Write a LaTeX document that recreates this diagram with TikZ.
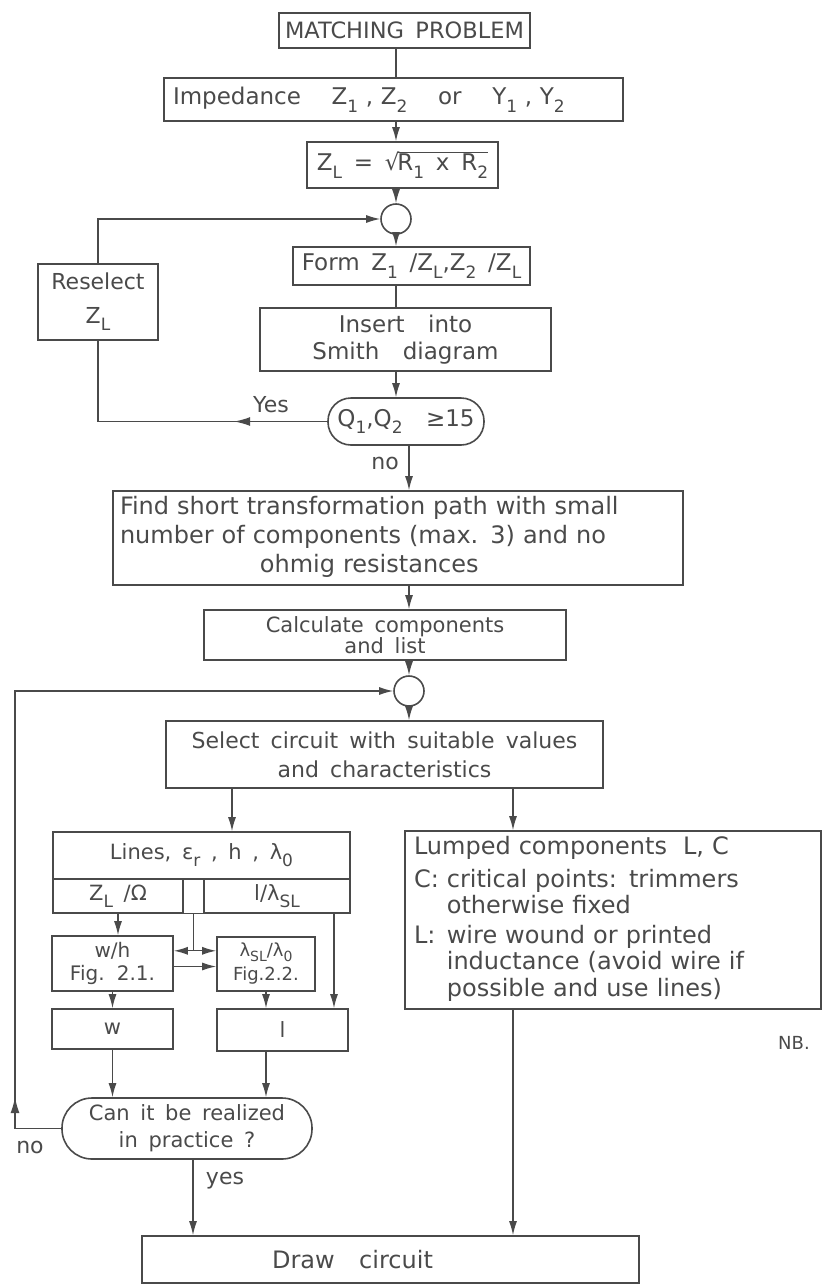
\documentclass[tikz,border=0pt]{standalone}
\usepackage{fontspec}
\setmainfont{DejaVu Sans}[WordSpace=1.6]
\usetikzlibrary{arrows.meta,positioning,calc,decorations.markings}
\setlength\parindent{0pt}
\definecolor{ink}{HTML}{4A4A4A}
\newcommand\lo[1]{\raisebox{-0.6ex}{\fontsize{17}{17}\selectfont #1}}
\newcommand\los[1]{\raisebox{-0.45ex}{\fontsize{14}{14}\selectfont #1}}
\tikzset{
  box/.style={draw=ink,line width=1.6pt,text=ink,align=center,inner sep=3pt,font=\fontsize{23}{27}\selectfont},
  pill/.style={box,rounded corners=#1},
  jn/.style={draw=ink,line width=1.6pt,circle,minimum size=30pt,inner sep=0pt},
  arr/.style={-{Latex[length=14pt,width=8pt]},line width=1.3pt,draw=ink},
  ln/.style={line width=1.3pt,draw=ink},
  midarr/.style={ln,postaction={decorate},decoration={markings,mark=at position #1 with {\arrow{Latex[length=16pt,width=9pt]}}}},
  lbl/.style={text=ink,inner sep=0pt,font=\fontsize{22}{26}\selectfont},
}

\begin{document}
\begin{tikzpicture}[x=1pt,y=-1pt]
  \useasboundingbox (0,0) rectangle (822,1285);
  \coordinate (ax1) at (396,0);
  \coordinate (ax2) at (409,0);
  \coordinate (nl) at (15,0);
  \coordinate (bl) at (232,0);
  \coordinate (br) at (513,0);
  \coordinate (lr) at (334,0);
  \coordinate (cy) at (193,0);
  % main column
  \node[box,minimum width=251pt,minimum height=35pt,font=\fontsize{22.5}{27}\selectfont] (match) at (404.5,30.5) {MATCHING PROBLEM};
  \node[box,minimum height=43pt,text width=441pt,align=left,inner xsep=9pt] (imp) at (393.5,99.5) {Impedance\quad\ Z\lo{1} , Z\lo{2}\quad\ or\quad\ Y\lo{1} , Y\lo{2}};
  \node[box,minimum width=191pt,minimum height=46pt] (zl) at (402.5,165) {Z\lo{L} = √\kern-2pt$\overline{\mbox{R\lo{1} x R\lo{2}}}$};
  \node[jn] (c1) at (396,219) {};
  \node[box,minimum width=237pt,minimum height=38pt] (form) at (411.5,266) {Form Z\lo{1} /Z\lo{L},Z\lo{2} /Z\lo{L}};
  \node[box,minimum width=120pt,minimum height=76pt,font=\fontsize{22}{26}\selectfont] (resel) at (98,302) {Reselect\\[8pt]Z\lo{L}};
  \node[box,minimum width=291pt,minimum height=63pt] (ins) at (405.5,339.5) {Insert\ \ into\\Smith\ \ diagram};
  \node[pill=23pt,minimum width=156pt,minimum height=47pt] (q) at (406,421.5) {Q\lo{1},Q\lo{2}\ \ ≥15};
  \node[box,minimum height=94pt,text width=556pt,align=left,inner xsep=7pt,font=\fontsize{24}{29}\selectfont] (find) at (398,538) {\begin{tabular}{@{}l@{}}Find short transformation path with small\\number of components (max. 3) and no\\\multicolumn{1}{@{}c@{}}{ohmig resistances}\end{tabular}};
  \node[box,minimum width=362pt,minimum height=50pt,font=\fontsize{21}{21}\selectfont] (calc) at (385,635) {Calculate components\\and list};
  \node[jn] (c2) at (409,691) {};
  \node[box,minimum width=437pt,minimum height=67pt,font=\fontsize{22}{29}\selectfont] (sel) at (384.5,754.5) {Select circuit with suitable values\\and characteristics};
  % lines branch
  \node[box,minimum width=297pt,minimum height=47pt,font=\fontsize{21}{25}\selectfont] (lines) at (201.5,855.5) {Lines, ε\lo{r} , h , λ\lo{0}};
  \node[box,minimum width=130pt,minimum height=34pt,font=\fontsize{21}{25}\selectfont] (zlo) at (118,896) {Z\lo{L} /Ω};
  \node[box,minimum width=146pt,minimum height=34pt,font=\fontsize{21}{25}\selectfont] (lam) at (277,896) {l/λ\lo{SL}};
  \node[box,minimum width=121pt,minimum height=55pt,font=\fontsize{20}{23}\selectfont] (wh) at (112.5,963.5) {w/h\\Fig. 2.1.};
  \node[box,minimum width=98pt,minimum height=54pt,font=\fontsize{18}{24}\selectfont] (lsl) at (266,964) {λ\los{SL}/λ\los{0}\\Fig.2.2.};
  \node[box,minimum width=121pt,minimum height=40pt,font=\fontsize{21}{25}\selectfont] (wb) at (112.5,1029) {w};
  \node[box,minimum width=131pt,minimum height=42pt,font=\fontsize{21}{25}\selectfont] (lb) at (282.5,1030) {l};
  \node[pill=30pt,minimum width=250pt,minimum height=61pt,font=\fontsize{21}{27}\selectfont] (can) at (187,1128.5) {Can it be realized\\in practice ?};
  % lumped branch
  \node[box,minimum height=178pt,text width=398pt,align=left,inner xsep=9pt,font=\fontsize{24}{25}\selectfont] (lump) at (613,920) {\begin{tabular}{@{}l@{ }l@{}}
    \multicolumn{2}{@{}l@{}}{Lumped components\ \ L, C}\\[7pt]
    C: & critical points: trimmers\\
       & otherwise fixed\\[5pt]
    L: & wire wound or printed\\
       & inductance (avoid wire if\\[1pt]
       & possible and use lines)
  \end{tabular}};
  \node[box,minimum width=497pt,minimum height=47pt,font=\fontsize{24}{27}\selectfont] (drw) at (390.5,1259.5) {Draw\ \ circuit\hspace*{76pt}};
  % labels
  \node[lbl] (yes1) at (271,405) {Yes};
  \node[lbl] (no1) at (385,463) {no};
  \node[lbl] (no2) at (30,1147) {no};
  \node[lbl] (yes2) at (225,1181) {yes};
  \node[lbl,font=\fontsize{18}{18}\selectfont] (nb) at (794,1043) {NB.};
  % main flow
  \draw[ln] (match.south -| ax1) -- (imp.north -| ax1);
  \draw[arr] (imp.south -| ax1) -- (zl.north -| ax1);
  \draw[arr] (zl.south -| ax1) -- (c1);
  \draw[arr] (c1) -- (form.north -| ax1);
  \draw[ln] (form.south -| ax1) -- (ins.north -| ax1);
  \draw[arr] (ins.south -| ax1) -- (q.north -| ax1);
  \draw[arr] (q.south -| ax2) -- (find.north -| ax2);
  \draw[arr] (find.south -| ax2) -- (calc.north -| ax2);
  \draw[arr] (calc.south -| ax2) -- (c2);
  \draw[arr] (c2) -- (sel.north -| ax2);
  \draw[arr] (sel.south -| bl) -- (lines.north -| bl);
  \draw[arr] (sel.south -| br) -- (lump.north -| br);
  % reselect loop
  \draw[midarr=0.3] (q.west) -| (resel.south);
  \draw[arr] (resel.north) |- (c1.west);
  % lines detail
  \draw[ln] (zlo.south east) -- (lam.south west);
  \coordinate (jt) at ($(zlo.south east)!0.5!(lam.south west)$);
  \coordinate (jn) at ($(jt)+(0,37)$);
  \coordinate (wh2) at ($(wh.east)+(0,3)$);
  \draw[ln] (jt) -- (jn);
  \draw[arr] (jn) -- (jn -| wh.east);
  \draw[arr] (jn) -- (jn -| lsl.west);
  \draw[arr] (wh2) -- (wh2 -| lsl.west);
  \draw[arr] (zlo.south) -- (wh.north -| zlo.south);
  \draw[arr] (wh.south) -- (wb.north);
  \draw[arr] (lsl.south) -- (lb.north -| lsl.south);
  \draw[arr] (lam.south -| lr) -- (lb.north -| lr);
  \draw[arr] (wb.south) -- (can.north -| wb.south);
  \draw[arr] (lb.south -| lsl.south) -- (can.north -| lsl.south);
  % realize loop and exits
  \draw[arr,midarr=0.09] (can.west) -- (can.west -| nl) |- (c2.west);
  \draw[arr] (can.south -| cy) -- (drw.north -| cy);
  \draw[arr] (lump.south -| br) -- (drw.north -| br);
\end{tikzpicture}
\end{document}
